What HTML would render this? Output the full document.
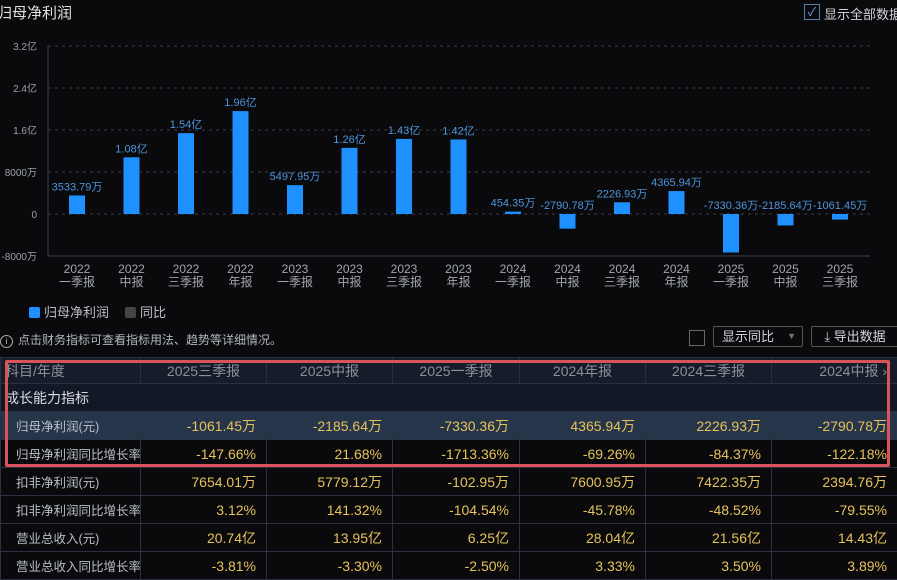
<!DOCTYPE html>
<html><head><meta charset="utf-8"><style>
body{margin:0;width:897px;height:576px;background:#0a0a0c;overflow:hidden;font-family:"Liberation Sans","Noto Sans CJK SC",sans-serif;color:#c8ccd2;position:relative}
.abs{position:absolute;white-space:nowrap}
table{border-collapse:collapse;position:absolute;left:0;top:357px;table-layout:fixed;width:897px}
td{border:1px solid #2a3040;height:27px;padding:0 10px;font-size:14px;white-space:nowrap;overflow:hidden}
td.v{text-align:right;color:#e6c25c}
tr.hd td{background:#161c2a;color:#8a919c;text-align:center;height:25px}
tr.sec td{background:#131826;color:#d8dce2}
tr.hl td{background:#27354b}
td.n{color:#b8bec8;padding:0 0 0 15px;font-size:12.5px}
</style></head><body>
<div class="abs" style="left:-3px;top:2px;font-size:15px;color:#e0e0e0">归母净利润</div>
<div class="abs" style="left:804px;top:4px;width:14px;height:14px;border:1px solid #5a7fb0;color:#6ea0e0;font-size:12px;line-height:14px;text-align:center">✓</div>
<div class="abs" style="left:824px;top:4px;font-size:13px;color:#d0d4da">显示全部数据</div>
<svg id="chart" class="abs" style="left:0;top:0" width="897" height="300"></svg>
<div class="abs" style="left:29px;top:302px;font-size:13px;color:#b8bec8"><span style="display:inline-block;width:11px;height:11px;background:#1e90ff;border-radius:2px;vertical-align:-1px;margin-right:4px"></span>归母净利润</div>
<div class="abs" style="left:125px;top:302px;font-size:13px;color:#b8bec8"><span style="display:inline-block;width:11px;height:11px;background:#444;border-radius:2px;vertical-align:-1px;margin-right:4px"></span>同比</div>
<div class="abs" style="left:0;top:331px;font-size:12px;color:#b0b6c0"><span style="display:inline-block;width:11px;height:11px;border:1px solid #aaa;border-radius:50%;font-size:9px;line-height:11px;text-align:center;margin-right:5px">i</span>点击财务指标可查看指标用法、趋势等详细情况。</div>
<div class="abs" style="left:689px;top:330px;width:14px;height:14px;border:1px solid #666"></div>
<div class="abs" style="left:713px;top:326px;height:19px;border:1px solid #555;border-radius:2px;font-size:13px;color:#d0d4da;line-height:19px;padding-left:8px;width:80px">显示同比<span style="position:absolute;right:6px;color:#777;font-size:9px">▼</span></div>
<div class="abs" style="left:811px;top:326px;width:86px;height:19px;border:1px solid #555;border-radius:2px;font-size:13px;color:#d0d4da;line-height:19px;text-align:center">⤓ 导出数据</div>
<table>
<colgroup><col style="width:140px"><col style="width:126px"><col style="width:126px"><col style="width:127px"><col style="width:126px"><col style="width:126px"><col style="width:126px"></colgroup>
<tr class="hd"><td style="text-align:left;padding-left:4px">科目/年度</td><td>2025三季报</td><td>2025中报</td><td>2025一季报</td><td>2024年报</td><td>2024三季报</td><td style="text-align:right">2024中报 ›</td></tr>
<tr class="sec"><td colspan="7" style="padding-left:4px">成长能力指标</td></tr>
<tr class="hl"><td class="n">归母净利润(元)</td><td class="v">-1061.45万</td><td class="v">-2185.64万</td><td class="v">-7330.36万</td><td class="v">4365.94万</td><td class="v">2226.93万</td><td class="v">-2790.78万</td></tr>
<tr><td class="n">归母净利润同比增长率</td><td class="v">-147.66%</td><td class="v">21.68%</td><td class="v">-1713.36%</td><td class="v">-69.26%</td><td class="v">-84.37%</td><td class="v">-122.18%</td></tr>
<tr><td class="n">扣非净利润(元)</td><td class="v">7654.01万</td><td class="v">5779.12万</td><td class="v">-102.95万</td><td class="v">7600.95万</td><td class="v">7422.35万</td><td class="v">2394.76万</td></tr>
<tr><td class="n">扣非净利润同比增长率</td><td class="v">3.12%</td><td class="v">141.32%</td><td class="v">-104.54%</td><td class="v">-45.78%</td><td class="v">-48.52%</td><td class="v">-79.55%</td></tr>
<tr><td class="n">营业总收入(元)</td><td class="v">20.74亿</td><td class="v">13.95亿</td><td class="v">6.25亿</td><td class="v">28.04亿</td><td class="v">21.56亿</td><td class="v">14.43亿</td></tr>
<tr><td class="n">营业总收入同比增长率</td><td class="v">-3.81%</td><td class="v">-3.30%</td><td class="v">-2.50%</td><td class="v">3.33%</td><td class="v">3.50%</td><td class="v">3.89%</td></tr>
</table>
<div class="abs" style="left:5px;top:360px;width:879px;height:101px;border:3px solid #d9535b;border-radius:2px"></div>
<script>
const years=["2022","2022","2022","2022","2023","2023","2023","2023","2024","2024","2024","2024","2025","2025","2025"];
const periods=["一季报","中报","三季报","年报","一季报","中报","三季报","年报","一季报","中报","三季报","年报","一季报","中报","三季报"];
const values=[3533.79,10800,15400,19600,5497.95,12600,14300,14200,454.35,-2790.78,2226.93,4365.94,-7330.36,-2185.64,-1061.45];
const labels=["3533.79万","1.08亿","1.54亿","1.96亿","5497.95万","1.26亿","1.43亿","1.42亿","454.35万","-2790.78万","2226.93万","4365.94万","-7330.36万","-2185.64万","-1061.45万"];
const ticks=[32000,24000,16000,8000,0,-8000];
const tickLabels=["3.2亿","2.4亿","1.6亿","8000万","0","-8000万"];
const svg=document.getElementById('chart');const NS='http://www.w3.org/2000/svg';
const y=v=>214-(v)*(168/32000);
const x=i=>77+i*54.5;
function mk(t,a,txt){const e=document.createElementNS(NS,t);for(const k in a)e.setAttribute(k,a[k]);if(txt!==undefined)e.textContent=txt;svg.appendChild(e);return e;}
ticks.forEach((t,i)=>{
 const l=mk('line',{x1:48,x2:870,y1:y(t),y2:y(t),stroke:t===-8000?'#3a4250':'#3a3e46','stroke-dasharray':t===-8000?'':'3,4'});
 
 
 const tx=mk('text',{x:37,y:y(t)+4,'text-anchor':'end','font-size':10,fill:'#9aa0a8'},tickLabels[i]);
 
 
});
mk('line',{x1:48,x2:48,y1:46,y2:256,stroke:'#3a4250'});
values.forEach((v,i)=>{
 const top=Math.min(y(v),y(0)),h=Math.abs(y(v)-y(0));
 const b=mk('rect',{x:x(i)-8,y:top,width:16,height:Math.max(h,1.5),fill:'#1e90ff'});
 
 
 const ly=v>=0?y(v)-5:y(0)-5;
 const t=mk('text',{x:x(i),y:ly,'text-anchor':'middle','font-size':11,fill:'#4f94dc'},labels[i]);
 
 
 const a=mk('text',{x:x(i),y:273,'text-anchor':'middle','font-size':12,fill:'#a0a6ae'},years[i]);
 
 
 const c=mk('text',{x:x(i),y:286,'text-anchor':'middle','font-size':12,fill:'#a0a6ae'},periods[i]);
 
 
});
</script>
</body></html>
